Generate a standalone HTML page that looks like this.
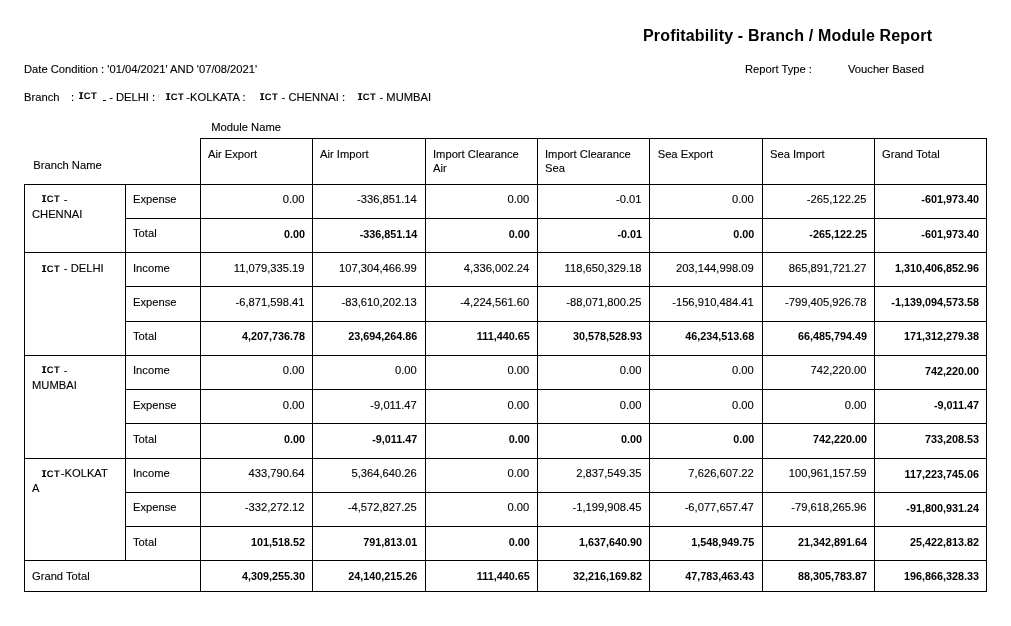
<!DOCTYPE html>
<html lang="en"><head><meta charset="utf-8"><title>Profitability - Branch / Module Report</title><style>
html,body{margin:0;padding:0;background:#fff;}
body{width:1011px;height:626px;position:relative;overflow:hidden;font-family:"Liberation Sans",sans-serif;font-size:11.2px;color:#000;}
#pg{position:absolute;left:0;top:0;width:1011px;height:626px;will-change:transform;}
.l{position:absolute;background:#000;}
.t{position:absolute;white-space:nowrap;line-height:13px;-webkit-text-stroke:0.12px #000;}
.n{position:absolute;white-space:nowrap;line-height:13px;text-align:right;-webkit-text-stroke:0.12px #000;}
.b{font-weight:bold;-webkit-text-stroke:0 !important;}
.n.b{font-size:10.8px;}
.g{display:block;overflow:visible}

</style></head><body><div id="pg">
<div class="t b" style="left:643px;top:26px;font-size:16px;line-height:20px;letter-spacing:0.17px">Profitability - Branch / Module Report</div>
<div class="t " style="left:24px;top:62.5px">Date Condition : '01/04/2021' AND '07/08/2021'</div>
<div class="t " style="left:745px;top:62.5px">Report Type :</div>
<div class="t " style="left:848px;top:62.5px">Voucher Based</div>
<div class="t " style="left:24px;top:90.5px">Branch</div>
<div class="t " style="left:71px;top:90.5px">:</div>
<div style="position:absolute;left:79.2px;top:91.1px;width:19px;height:10px"><svg class="g" width="19" height="10" viewBox="0 0 19 10"><path d="M0 1.3h4.2v1h-1.3v4.7h1.3v1h-4.2v-1h1.3v-4.7h-1.3z"/><text x="4.85" y="8" font-size="9.4" font-weight="bold" font-family="Liberation Sans, sans-serif" letter-spacing="0.35" text-rendering="geometricPrecision">CT</text></svg></div>
<div class="l" style="left:103px;top:100px;width:3.4px;height:1px"></div>
<div class="t " style="left:109.2px;top:90.5px">- DELHI :</div>
<div class="l" style="left:158.4px;top:93.5px;width:1px;height:4.5px;background:#d8d8d8"></div>
<div style="position:absolute;left:165.8px;top:92.2px;width:19px;height:10px"><svg class="g" width="19" height="10" viewBox="0 0 19 10"><path d="M0 1.3h4.2v1h-1.3v4.7h1.3v1h-4.2v-1h1.3v-4.7h-1.3z"/><text x="4.85" y="8" font-size="9.4" font-weight="bold" font-family="Liberation Sans, sans-serif" letter-spacing="0.35" text-rendering="geometricPrecision">CT</text></svg></div>
<div class="t " style="left:186.3px;top:90.5px">-KOLKATA :</div>
<div style="position:absolute;left:260px;top:92.2px;width:19px;height:10px"><svg class="g" width="19" height="10" viewBox="0 0 19 10"><path d="M0 1.3h4.2v1h-1.3v4.7h1.3v1h-4.2v-1h1.3v-4.7h-1.3z"/><text x="4.85" y="8" font-size="9.4" font-weight="bold" font-family="Liberation Sans, sans-serif" letter-spacing="0.35" text-rendering="geometricPrecision">CT</text></svg></div>
<div class="t " style="left:281.6px;top:90.5px">- CHENNAI :</div>
<div style="position:absolute;left:358px;top:92.2px;width:19px;height:10px"><svg class="g" width="19" height="10" viewBox="0 0 19 10"><path d="M0 1.3h4.2v1h-1.3v4.7h1.3v1h-4.2v-1h1.3v-4.7h-1.3z"/><text x="4.85" y="8" font-size="9.4" font-weight="bold" font-family="Liberation Sans, sans-serif" letter-spacing="0.35" text-rendering="geometricPrecision">CT</text></svg></div>
<div class="t " style="left:379.5px;top:90.5px">- MUMBAI</div>
<div class="t " style="left:211.3px;top:120.5px">Module Name</div>
<div class="t " style="left:33.3px;top:158.5px">Branch Name</div>
<div class="l" style="left:200px;top:138px;width:787px;height:1px"></div>
<div class="l" style="left:200px;top:138px;width:1px;height:47px"></div>
<div class="l" style="left:312px;top:138px;width:1px;height:47px"></div>
<div class="l" style="left:425px;top:138px;width:1px;height:47px"></div>
<div class="l" style="left:537px;top:138px;width:1px;height:47px"></div>
<div class="l" style="left:649px;top:138px;width:1px;height:47px"></div>
<div class="l" style="left:762px;top:138px;width:1px;height:47px"></div>
<div class="l" style="left:874px;top:138px;width:1px;height:47px"></div>
<div class="l" style="left:986px;top:138px;width:1px;height:47px"></div>
<div class="t " style="left:208px;top:147.5px">Air Export</div>
<div class="t " style="left:320px;top:147.5px">Air Import</div>
<div class="t " style="left:433px;top:147.5px">Import Clearance</div>
<div class="t " style="left:433px;top:161.5px">Air</div>
<div class="t " style="left:545px;top:147.5px">Import Clearance</div>
<div class="t " style="left:545px;top:161.5px">Sea</div>
<div class="t " style="left:657.7px;top:147.5px">Sea Export</div>
<div class="t " style="left:770px;top:147.5px">Sea Import</div>
<div class="t " style="left:882px;top:147.5px">Grand Total</div>
<div class="l" style="left:24px;top:184px;width:963px;height:1px"></div>
<div class="l" style="left:24px;top:591px;width:963px;height:1px"></div>
<div class="l" style="left:24px;top:184px;width:1px;height:408px"></div>
<div class="l" style="left:200px;top:184px;width:1px;height:408px"></div>
<div class="l" style="left:312px;top:184px;width:1px;height:408px"></div>
<div class="l" style="left:425px;top:184px;width:1px;height:408px"></div>
<div class="l" style="left:537px;top:184px;width:1px;height:408px"></div>
<div class="l" style="left:649px;top:184px;width:1px;height:408px"></div>
<div class="l" style="left:762px;top:184px;width:1px;height:408px"></div>
<div class="l" style="left:874px;top:184px;width:1px;height:408px"></div>
<div class="l" style="left:986px;top:184px;width:1px;height:408px"></div>
<div class="l" style="left:125px;top:184px;width:1px;height:377px"></div>
<div class="l" style="left:125px;top:218px;width:862px;height:1px"></div>
<div class="l" style="left:24px;top:252px;width:963px;height:1px"></div>
<div class="l" style="left:125px;top:286px;width:862px;height:1px"></div>
<div class="l" style="left:125px;top:321px;width:862px;height:1px"></div>
<div class="l" style="left:24px;top:355px;width:963px;height:1px"></div>
<div class="l" style="left:125px;top:389px;width:862px;height:1px"></div>
<div class="l" style="left:125px;top:423px;width:862px;height:1px"></div>
<div class="l" style="left:24px;top:458px;width:963px;height:1px"></div>
<div class="l" style="left:125px;top:492px;width:862px;height:1px"></div>
<div class="l" style="left:125px;top:526px;width:862px;height:1px"></div>
<div class="l" style="left:24px;top:560px;width:963px;height:1px"></div>
<div class="t " style="left:133px;top:192.5px">Expense</div>
<div class="n " style="left:194.5px;width:110px;top:192.5px">0.00</div>
<div class="n " style="left:306.8px;width:110px;top:192.5px">-336,851.14</div>
<div class="n " style="left:419.20000000000005px;width:110px;top:192.5px">0.00</div>
<div class="n " style="left:531.5px;width:110px;top:192.5px">-0.01</div>
<div class="n " style="left:643.7px;width:110px;top:192.5px">0.00</div>
<div class="n " style="left:756.5px;width:110px;top:192.5px">-265,122.25</div>
<div class="n b" style="left:869.0px;width:110px;top:192.5px">-601,973.40</div>
<div class="t " style="left:133px;top:226.5px">Total</div>
<div class="n b" style="left:195.0px;width:110px;top:227.5px">0.00</div>
<div class="n b" style="left:307.3px;width:110px;top:227.5px">-336,851.14</div>
<div class="n b" style="left:419.70000000000005px;width:110px;top:227.5px">0.00</div>
<div class="n b" style="left:532.0px;width:110px;top:227.5px">-0.01</div>
<div class="n b" style="left:644.2px;width:110px;top:227.5px">0.00</div>
<div class="n b" style="left:757.0px;width:110px;top:227.5px">-265,122.25</div>
<div class="n b" style="left:869.0px;width:110px;top:227.5px">-601,973.40</div>
<div class="t " style="left:133px;top:261.5px">Income</div>
<div class="n " style="left:194.5px;width:110px;top:261.5px">11,079,335.19</div>
<div class="n " style="left:306.8px;width:110px;top:261.5px">107,304,466.99</div>
<div class="n " style="left:419.20000000000005px;width:110px;top:261.5px">4,336,002.24</div>
<div class="n " style="left:531.5px;width:110px;top:261.5px">118,650,329.18</div>
<div class="n " style="left:643.7px;width:110px;top:261.5px">203,144,998.09</div>
<div class="n " style="left:756.5px;width:110px;top:261.5px">865,891,721.27</div>
<div class="n b" style="left:869.0px;width:110px;top:261.5px">1,310,406,852.96</div>
<div class="t " style="left:133px;top:295.5px">Expense</div>
<div class="n " style="left:194.5px;width:110px;top:295.5px">-6,871,598.41</div>
<div class="n " style="left:306.8px;width:110px;top:295.5px">-83,610,202.13</div>
<div class="n " style="left:419.20000000000005px;width:110px;top:295.5px">-4,224,561.60</div>
<div class="n " style="left:531.5px;width:110px;top:295.5px">-88,071,800.25</div>
<div class="n " style="left:643.7px;width:110px;top:295.5px">-156,910,484.41</div>
<div class="n " style="left:756.5px;width:110px;top:295.5px">-799,405,926.78</div>
<div class="n b" style="left:869.0px;width:110px;top:295.5px">-1,139,094,573.58</div>
<div class="t " style="left:133px;top:329.5px">Total</div>
<div class="n b" style="left:195.0px;width:110px;top:329.5px">4,207,736.78</div>
<div class="n b" style="left:307.3px;width:110px;top:329.5px">23,694,264.86</div>
<div class="n b" style="left:419.70000000000005px;width:110px;top:329.5px">111,440.65</div>
<div class="n b" style="left:532.0px;width:110px;top:329.5px">30,578,528.93</div>
<div class="n b" style="left:644.2px;width:110px;top:329.5px">46,234,513.68</div>
<div class="n b" style="left:757.0px;width:110px;top:329.5px">66,485,794.49</div>
<div class="n b" style="left:869.0px;width:110px;top:329.5px">171,312,279.38</div>
<div class="t " style="left:133px;top:363.5px">Income</div>
<div class="n " style="left:194.5px;width:110px;top:363.5px">0.00</div>
<div class="n " style="left:306.8px;width:110px;top:363.5px">0.00</div>
<div class="n " style="left:419.20000000000005px;width:110px;top:363.5px">0.00</div>
<div class="n " style="left:531.5px;width:110px;top:363.5px">0.00</div>
<div class="n " style="left:643.7px;width:110px;top:363.5px">0.00</div>
<div class="n " style="left:756.5px;width:110px;top:363.5px">742,220.00</div>
<div class="n b" style="left:869.0px;width:110px;top:364.5px">742,220.00</div>
<div class="t " style="left:133px;top:398.5px">Expense</div>
<div class="n " style="left:194.5px;width:110px;top:398.5px">0.00</div>
<div class="n " style="left:306.8px;width:110px;top:398.5px">-9,011.47</div>
<div class="n " style="left:419.20000000000005px;width:110px;top:398.5px">0.00</div>
<div class="n " style="left:531.5px;width:110px;top:398.5px">0.00</div>
<div class="n " style="left:643.7px;width:110px;top:398.5px">0.00</div>
<div class="n " style="left:756.5px;width:110px;top:398.5px">0.00</div>
<div class="n b" style="left:869.0px;width:110px;top:398.5px">-9,011.47</div>
<div class="t " style="left:133px;top:432.5px">Total</div>
<div class="n b" style="left:195.0px;width:110px;top:432.5px">0.00</div>
<div class="n b" style="left:307.3px;width:110px;top:432.5px">-9,011.47</div>
<div class="n b" style="left:419.70000000000005px;width:110px;top:432.5px">0.00</div>
<div class="n b" style="left:532.0px;width:110px;top:432.5px">0.00</div>
<div class="n b" style="left:644.2px;width:110px;top:432.5px">0.00</div>
<div class="n b" style="left:757.0px;width:110px;top:432.5px">742,220.00</div>
<div class="n b" style="left:869.0px;width:110px;top:432.5px">733,208.53</div>
<div class="t " style="left:133px;top:466.5px">Income</div>
<div class="n " style="left:194.5px;width:110px;top:466.5px">433,790.64</div>
<div class="n " style="left:306.8px;width:110px;top:466.5px">5,364,640.26</div>
<div class="n " style="left:419.20000000000005px;width:110px;top:466.5px">0.00</div>
<div class="n " style="left:531.5px;width:110px;top:466.5px">2,837,549.35</div>
<div class="n " style="left:643.7px;width:110px;top:466.5px">7,626,607.22</div>
<div class="n " style="left:756.5px;width:110px;top:466.5px">100,961,157.59</div>
<div class="n b" style="left:869.0px;width:110px;top:467.5px">117,223,745.06</div>
<div class="t " style="left:133px;top:500.5px">Expense</div>
<div class="n " style="left:194.5px;width:110px;top:500.5px">-332,272.12</div>
<div class="n " style="left:306.8px;width:110px;top:500.5px">-4,572,827.25</div>
<div class="n " style="left:419.20000000000005px;width:110px;top:500.5px">0.00</div>
<div class="n " style="left:531.5px;width:110px;top:500.5px">-1,199,908.45</div>
<div class="n " style="left:643.7px;width:110px;top:500.5px">-6,077,657.47</div>
<div class="n " style="left:756.5px;width:110px;top:500.5px">-79,618,265.96</div>
<div class="n b" style="left:869.0px;width:110px;top:501.5px">-91,800,931.24</div>
<div class="t " style="left:133px;top:535.5px">Total</div>
<div class="n b" style="left:195.0px;width:110px;top:535.5px">101,518.52</div>
<div class="n b" style="left:307.3px;width:110px;top:535.5px">791,813.01</div>
<div class="n b" style="left:419.70000000000005px;width:110px;top:535.5px">0.00</div>
<div class="n b" style="left:532.0px;width:110px;top:535.5px">1,637,640.90</div>
<div class="n b" style="left:644.2px;width:110px;top:535.5px">1,548,949.75</div>
<div class="n b" style="left:757.0px;width:110px;top:535.5px">21,342,891.64</div>
<div class="n b" style="left:869.0px;width:110px;top:535.5px">25,422,813.82</div>
<div class="n b" style="left:195.0px;width:110px;top:569.5px">4,309,255.30</div>
<div class="n b" style="left:307.3px;width:110px;top:569.5px">24,140,215.26</div>
<div class="n b" style="left:419.70000000000005px;width:110px;top:569.5px">111,440.65</div>
<div class="n b" style="left:532.0px;width:110px;top:569.5px">32,216,169.82</div>
<div class="n b" style="left:644.2px;width:110px;top:569.5px">47,783,463.43</div>
<div class="n b" style="left:757.0px;width:110px;top:569.5px">88,305,783.87</div>
<div class="n b" style="left:869.0px;width:110px;top:569.5px">196,866,328.33</div>
<div class="t " style="left:32px;top:569.5px">Grand Total</div>
<div style="position:absolute;left:42px;top:194.0px;width:19px;height:10px"><svg class="g" width="19" height="10" viewBox="0 0 19 10"><path d="M0 1.3h4.2v1h-1.3v4.7h1.3v1h-4.2v-1h1.3v-4.7h-1.3z"/><text x="4.85" y="8" font-size="9.4" font-weight="bold" font-family="Liberation Sans, sans-serif" letter-spacing="0.35" text-rendering="geometricPrecision">CT</text></svg></div>
<div class="t " style="left:63.8px;top:192.5px">-</div>
<div class="t " style="left:32px;top:207.5px">CHENNAI</div>
<div style="position:absolute;left:42px;top:264.0px;width:19px;height:10px"><svg class="g" width="19" height="10" viewBox="0 0 19 10"><path d="M0 1.3h4.2v1h-1.3v4.7h1.3v1h-4.2v-1h1.3v-4.7h-1.3z"/><text x="4.85" y="8" font-size="9.4" font-weight="bold" font-family="Liberation Sans, sans-serif" letter-spacing="0.35" text-rendering="geometricPrecision">CT</text></svg></div>
<div class="t " style="left:63.8px;top:261.5px">- DELHI</div>
<div style="position:absolute;left:42px;top:365.0px;width:19px;height:10px"><svg class="g" width="19" height="10" viewBox="0 0 19 10"><path d="M0 1.3h4.2v1h-1.3v4.7h1.3v1h-4.2v-1h1.3v-4.7h-1.3z"/><text x="4.85" y="8" font-size="9.4" font-weight="bold" font-family="Liberation Sans, sans-serif" letter-spacing="0.35" text-rendering="geometricPrecision">CT</text></svg></div>
<div class="t " style="left:63.8px;top:363.5px">-</div>
<div class="t " style="left:32px;top:378.5px">MUMBAI</div>
<div style="position:absolute;left:42px;top:469.0px;width:19px;height:10px"><svg class="g" width="19" height="10" viewBox="0 0 19 10"><path d="M0 1.3h4.2v1h-1.3v4.7h1.3v1h-4.2v-1h1.3v-4.7h-1.3z"/><text x="4.85" y="8" font-size="9.4" font-weight="bold" font-family="Liberation Sans, sans-serif" letter-spacing="0.35" text-rendering="geometricPrecision">CT</text></svg></div>
<div class="t " style="left:60.8px;top:466.5px">-KOLKAT</div>
<div class="t " style="left:32px;top:481.5px">A</div>
</div></body></html>
